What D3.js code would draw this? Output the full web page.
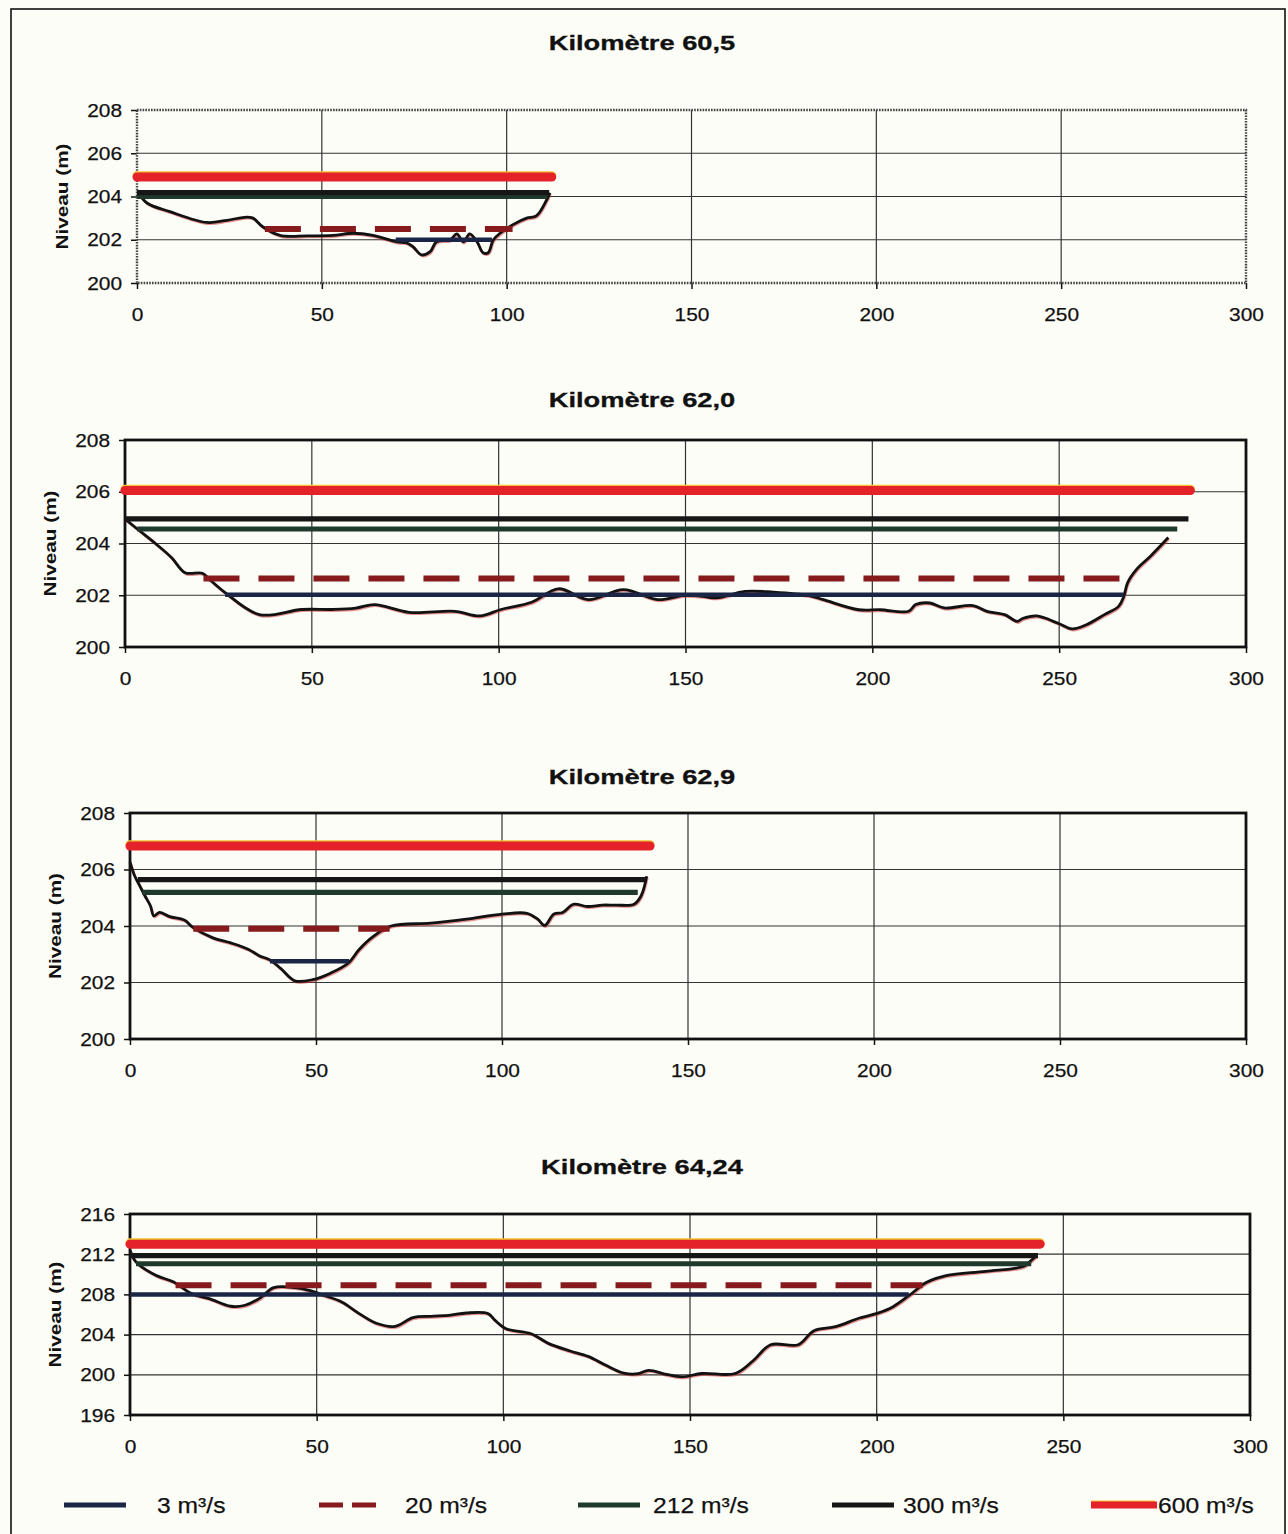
<!DOCTYPE html>
<html><head><meta charset="utf-8">
<script src="https://cdn.jsdelivr.net/npm/d3@7"></script>
<style>
body{margin:0;background:#fdfdf7}
text{font-family:"Liberation Sans",Arial,Helvetica,sans-serif;fill:#111}
</style>
</head><body>
<svg id="c" width="1288" height="1534"></svg>
<script>
// ---------- DATA ----------
const discharges = ["3 m³/s", "20 m³/s", "212 m³/s", "300 m³/s", "600 m³/s"];
const titles = ["Kilomètre 60,5", "Kilomètre 62,0", "Kilomètre 62,9", "Kilomètre 64,24"];
const xTicks = [0, 50, 100, 150, 200, 250, 300];
const yTicksA = [200, 202, 204, 206, 208];
const yTicksB = [196, 200, 204, 208, 212, 216];

// water levels (m) per discharge, and their extent along the section (m)
const level605 = [202.0, 202.5, 204.0, 204.18, 204.9];
const from605  = [70, 34.6, 0, 0, 0];
const to605    = [96, 101.6, 111, 111.5, 112.2];

const level620 = [202.02, 202.65, 204.56, 204.95, 206.05];
const from620  = [26.8, 21, 3.3, 0, 0];
const to620    = [267.3, 270.2, 281.6, 284.6, 285.1];

const level629 = [202.75, 203.9, 205.19, 205.64, 206.83];
const from629  = [37.6, 17, 3.3, 2.1, 0];
const to629    = [58.9, 69.8, 136.5, 138.9, 139.8];

const level6424 = [208.0, 208.9, 211.05, 211.85, 213.0];
const from6424  = [0, 12.2, 1.6, 0, 0];
const to6424    = [208.6, 212.3, 241.4, 243.2, 243.8];

// river bed profiles [distance, level]
const bed605 = [[0.3,204.2],[2.7,203.7],[8.9,203.3],[18.9,202.8],[24.3,202.9],[29.7,203.05],[31.4,203.0],[34,202.6],[38.7,202.2],[46,202.18],[53,202.2],[58.5,202.3],[63.8,202.2],[70.3,201.9],[73,201.85],[74.7,201.67],[77,201.3],[79.3,201.45],[81,201.9],[84.7,202.0],[86.5,202.27],[88.3,201.9],[90,202.27],[92,201.9],[93.6,201.4],[95,201.4],[96.4,202.0],[98.2,202.3],[101.7,202.7],[105.4,203.0],[108,203.1],[110.8,203.84],[111.7,204.17]];
const bed620 = [[0,204.95],[3.3,204.56],[8.4,203.97],[12.5,203.45],[16.1,202.87],[20.7,202.85],[22.7,202.6],[26.8,202.1],[36,201.25],[47.3,201.45],[55.5,201.45],[61.7,201.5],[66.8,201.64],[76,201.34],[88.3,201.38],[95,201.2],[100.6,201.45],[108.8,201.73],[116,202.25],[124,201.83],[133.4,202.22],[142.6,201.83],[149.8,202.0],[154.5,201.96],[158.3,201.9],[165.9,202.15],[173.5,202.12],[183,201.99],[186.9,201.83],[196.4,201.44],[202.1,201.44],[209.7,201.38],[211.6,201.64],[215.4,201.7],[219.2,201.51],[226.9,201.6],[230.7,201.38],[235.4,201.25],[238.8,200.99],[240.2,201.1],[244,201.2],[249.7,200.92],[253.5,200.7],[257.3,200.86],[262.1,201.25],[265.9,201.57],[267.3,201.96],[268.3,202.48],[270.7,203.0],[274.5,203.52],[279.2,204.23]];
const bed629 = [[0,206.26],[1.2,205.79],[2.6,205.43],[4.0,205.07],[5.5,204.71],[6.4,204.36],[7.9,204.48],[10.7,204.33],[14.6,204.21],[17,203.94],[22.3,203.58],[27.1,203.4],[31.9,203.17],[34.7,202.95],[37.6,202.8],[40.5,202.5],[44.3,202.06],[49.1,202.1],[53.9,202.33],[58.7,202.69],[61.6,203.17],[65.5,203.64],[70.2,204.0],[80.8,204.1],[90.4,204.24],[100,204.42],[106.7,204.45],[109.6,204.24],[111.5,204.02],[113.9,204.42],[116.3,204.48],[119.2,204.77],[123,204.69],[126.9,204.74],[130.7,204.74],[135.5,204.77],[137.4,205.07],[138.9,205.76]];
const bed6424 = [[0,212.4],[1.6,211.24],[6.9,209.9],[11.7,209.24],[16.5,208.08],[21.2,207.58],[27,206.82],[30.8,206.92],[34.6,207.58],[38.5,208.68],[44.2,208.68],[48,208.41],[51.9,207.91],[56.7,207.25],[61.4,206.09],[66.2,205.1],[71,204.82],[75.8,205.69],[80.6,205.82],[85.4,205.92],[90.1,206.15],[95.9,206.09],[97.8,205.42],[100.7,204.59],[107.4,204.09],[112.2,203.1],[117.9,202.37],[122.7,201.83],[127.5,200.94],[132.3,200.17],[136.1,200.11],[138.9,200.44],[143.7,200.04],[147.9,199.8],[153.2,200.13],[162.1,200.13],[166.9,201.4],[171.6,202.99],[179,202.99],[183.2,204.39],[189,204.79],[195.4,205.65],[200.1,206.11],[204.4,206.78],[208.6,207.87],[213.4,209.2],[218.6,209.87],[229.2,210.3],[239.2,210.77],[240.8,211.2],[242.9,211.9]];

// ---------- LAYOUT / STYLE ----------
const panels = [
  {title: titles[0], levels: level605, from: from605, to: to605, bed: bed605, yTicks: yTicksA, l:137, r:1246, t:110, b:283, ty:43, dotted:true},
  {title: titles[1], levels: level620, from: from620, to: to620, bed: bed620, yTicks: yTicksA, l:125, r:1246, t:440, b:647, ty:400},
  {title: titles[2], levels: level629, from: from629, to: to629, bed: bed629, yTicks: yTicksA, l:130, r:1246, t:813, b:1039, ty:777},
  {title: titles[3], levels: level6424, from: from6424, to: to6424, bed: bed6424, yTicks: yTicksB, l:130, r:1250, t:1214, b:1415, ty:1167}
];
const seriesStyle = [
  {color:"#1b2546", width:4.5, dash:null},
  {color:"#861a1d", width:6, dash:"36,19"},
  {color:"#1f3a2d", width:5.2, dash:null},
  {color:"#161616", width:5.2, dash:null},
  {color:"#e4222a", width:9, dash:null, cap:"round"}
];

const svg = d3.select("#c");
svg.append("rect").attr("width",1288).attr("height",1534).attr("fill","#fdfdf7");
svg.append("rect").attr("x",11).attr("y",9).attr("width",1274).attr("height",1540)
  .attr("fill","none").attr("stroke","#111").attr("stroke-width",1.6);

panels.forEach(p => {
  const yd = d3.extent(p.yTicks);
  const x = d3.scaleLinear().domain([0,300]).range([p.l,p.r]);
  const y = d3.scaleLinear().domain(yd).range([p.b,p.t]);
  const g = svg.append("g");

  // title
  g.append("text").attr("x",642).attr("y",p.ty+7).attr("text-anchor","middle")
    .attr("font-size",21).attr("font-weight","bold").attr("data-s",1.3)
    .attr("stroke","#111").attr("stroke-width",0.3).text(p.title);

  // gridlines
  g.append("g").selectAll("line").data(xTicks.slice(1,-1)).join("line")
    .attr("x1",d=>x(d)).attr("x2",d=>x(d)).attr("y1",p.t).attr("y2",p.b)
    .attr("stroke","#333").attr("stroke-width",1.2);
  g.append("g").selectAll("line").data(p.yTicks.slice(1,-1)).join("line")
    .attr("x1",p.l).attr("x2",p.r).attr("y1",d=>y(d)).attr("y2",d=>y(d))
    .attr("stroke","#333").attr("stroke-width",1.2);

  // axes
  const xa = d3.axisBottom(x).tickValues(xTicks).tickSize(6).tickPadding(19).tickFormat(d3.format("d"));
  const ya = d3.axisLeft(y).tickValues(p.yTicks).tickSize(6).tickPadding(9).tickFormat(d3.format("d"));
  const gx = g.append("g").attr("transform",`translate(0,${p.b})`).call(xa);
  const gy = g.append("g").attr("transform",`translate(${p.l},0)`).call(ya);
  [gx,gy].forEach(a=>{
    a.select(".domain").remove();
    a.selectAll(".tick line").attr("stroke","#111").attr("stroke-width",1.5);
    a.selectAll(".tick text").attr("font-size",19).attr("fill","#111")
      .attr("font-family","Liberation Sans, Arial, sans-serif").attr("data-s",1.1)
      .attr("stroke","#111").attr("stroke-width",0.25);
  });
  gx.selectAll(".tick text").attr("dy","0.71em");

  // y label
  g.append("text").attr("transform",`translate(${p.l-75},${(p.t+p.b)/2}) rotate(-90)`)
    .attr("text-anchor","middle").attr("dy","0.36em").attr("font-size",17).attr("font-weight","bold")
    .attr("data-s",1.22).text("Niveau (m)");

  // plot border
  g.append("rect").attr("x",p.l).attr("y",p.t).attr("width",p.r-p.l).attr("height",p.b-p.t)
    .attr("fill","none").attr("stroke",p.dotted?"#444":"#111")
    .attr("stroke-width",p.dotted?2.4:2.8)
    .attr("stroke-dasharray",p.dotted?"1.6,1.2":null);

  // river bed
  const line = d3.line().x(d=>x(d[0])).y(d=>y(d[1])).curve(d3.curveCatmullRom.alpha(0.5));
  g.append("path").datum(p.bed).attr("d",line).attr("fill","none")
    .attr("stroke","#d23a3a").attr("stroke-opacity",0.55).attr("stroke-width",2.4)
    .attr("transform","translate(0.8,1.3)");
  g.append("path").datum(p.bed).attr("d",line).attr("fill","none")
    .attr("stroke","#121212").attr("stroke-width",2.8).attr("stroke-linejoin","round");

  // water levels
  discharges.forEach((name,i)=>{
    const s = seriesStyle[i];
    const pts = [[p.from[i],p.levels[i]],[p.to[i],p.levels[i]]];
    const lf = d3.line().x(d=>x(d[0])).y(d=>y(d[1]));
    if(i===4){
      g.append("path").datum(pts).attr("d",lf).attr("fill","none").attr("stroke","#f2c230")
        .attr("stroke-width",s.width).attr("stroke-linecap","round").attr("transform","translate(0,-1.3)");
    }
    g.append("path").datum(pts).attr("d",lf).attr("fill","none")
      .attr("stroke",s.color).attr("stroke-width",s.width)
      .attr("stroke-dasharray",s.dash).attr("stroke-linecap",s.cap||"butt");
  });
});

// legend
const legX = [64, 319, 578, 832, 1091];
const legTextX = [157, 405, 653, 903, 1158];
const legY = 1505;
const lg = svg.append("g");
discharges.forEach((name,i)=>{
  const s = seriesStyle[i];
  if(i===4){
    lg.append("line").attr("x1",legX[i]).attr("x2",legX[i]+64).attr("y1",legY-1.5).attr("y2",legY-1.5)
      .attr("stroke","#f2c230").attr("stroke-width",6);
  }
  lg.append("line").attr("x1",legX[i]).attr("x2",legX[i]+(i===4?66:62)).attr("y1",legY).attr("y2",legY)
    .attr("stroke",s.color).attr("stroke-width",i===4?7:5)
    .attr("stroke-dasharray",i===1?"24,9":null);
  lg.append("text").attr("x",legTextX[i]).attr("y",legY).attr("dy","0.36em")
    .attr("font-size",22).attr("data-s",1.12).attr("stroke","#111").attr("stroke-width",0.25).text(name);
});

// horizontal stretch of text to match the scanned original's proportions
svg.selectAll("text").each(function(){
  const s = +this.getAttribute("data-s") || 1;
  if(s!==1){
    const L = this.getComputedTextLength();
    this.setAttribute("textLength", L*s);
    this.setAttribute("lengthAdjust","spacingAndGlyphs");
  }
});
</script>
</body></html>
